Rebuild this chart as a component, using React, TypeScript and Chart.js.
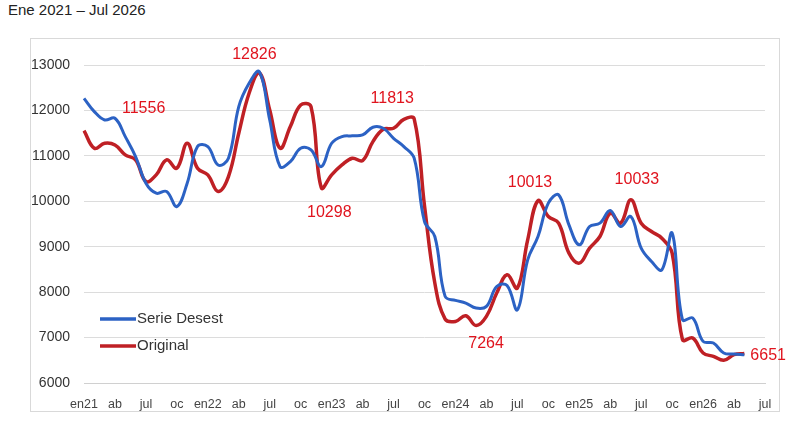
import React, { useEffect, useRef } from "react";
import { Chart, registerables } from "chart.js";
Chart.register(...registerables);

const years = ["21", "22", "23", "24", "25", "26"];
const monthNames = ["en", "fe", "mr", "ab", "my", "jn", "jul", "ag", "se", "oc", "no", "di"];
const categories: string[] = [];
for (const y of years) for (let m = 0; m < 12; m++) { if (y === "26" && m > 6) break; categories.push(m === 0 ? "en" + y : monthNames[m]); }

const serieDesest = [12267, 11974, 11790, 11827, 11424, 10985, 10398, 10178, 10215, 9885, 10398, 11204, 11204, 10800, 10948, 12083, 12597, 12853, 11790, 10764, 10875, 11168, 11130, 10764, 11277, 11424, 11440, 11460, 11630, 11607, 11387, 11204, 10948, 9555, 9225, 7906, 7818, 7760, 7649, 7686, 8125, 8148, 7612, 8712, 9225, 9958, 10141, 9482, 9042, 9445, 9518, 9796, 9445, 9665, 8968, 8675, 8492, 9298, 7393, 7429, 6916, 6880, 6660, 6638, 6623];
const original = [11556, 11168, 11277, 11240, 11021, 10911, 10435, 10581, 10911, 10728, 11277, 10728, 10581, 10215, 10544, 11497, 12377, 12826, 12010, 11168, 11644, 12120, 12083, 10298, 10581, 10800, 10948, 10896, 11314, 11585, 11607, 11805, 11813, 9900, 8200, 7407, 7356, 7480, 7264, 7466, 7979, 8382, 8089, 9152, 10013, 9665, 9518, 8858, 8638, 8968, 9225, 9738, 9518, 10033, 9518, 9335, 9188, 8858, 6953, 6990, 6660, 6587, 6500, 6623, 6651];
const yTicks = [6000, 7000, 8000, 9000, 10000, 11000, 12000, 13000];
const labelledIdx = [0, 17, 23, 32, 38, 44, 53, 64];

export default function App() {
  const ref = useRef<HTMLCanvasElement>(null);
  useEffect(() => {
    document.body.style.margin = "0";
    const labelPos: Record<number, [number, number, CanvasTextAlign]> = {
      0: [38, -22, "left"], 17: [-5, -18, "center"], 23: [8, 25, "center"], 32: [-22, -20, "center"],
      38: [10, 18, "center"], 44: [-8, -18, "center"], 53: [6, -20, "center"], 64: [6, 2, "left"],
    };
    const plugin = {
      id: "extras",
      afterDatasetsDraw(chart: any) {
        const ctx = chart.ctx;
        const meta = chart.getDatasetMeta(1);
        ctx.save();
        ctx.font = "16px Arial, 'Liberation Sans'";
        ctx.fillStyle = "#e0141e";
        ctx.textBaseline = "middle";
        for (const i of labelledIdx) {
          const p = meta.data[i];
          const [dx, dy, al] = labelPos[i];
          ctx.textAlign = al;
          ctx.fillText(String(original[i]), p.x + dx, p.y + dy);
        }
        const items = [["Serie Desest", "#2c62c4"], ["Original", "#bf2025"]];
        ctx.font = "15px Arial, 'Liberation Sans'";
        ctx.textAlign = "left";
        items.forEach(([t, c], k) => {
          const y = 319 + k * 27;
          ctx.strokeStyle = c; ctx.lineWidth = 3.5;
          ctx.beginPath(); ctx.moveTo(100, y); ctx.lineTo(136, y); ctx.stroke();
          ctx.fillStyle = "#333"; ctx.fillText(t, 137, y);
        });
        ctx.restore();
      },
    };
    const chart = new Chart(ref.current!, {
      type: "line",
      data: {
        labels: categories,
        datasets: [
          { label: "Serie Desest", data: serieDesest, borderColor: "#2c62c4", borderWidth: 3, pointRadius: 0, tension: 0.4, fill: false },
          { label: "Original", data: original, borderColor: "#bf2025", borderWidth: 3.5, pointRadius: 0, tension: 0.4, fill: false },
        ],
      },
      options: {
        animation: false, responsive: false, maintainAspectRatio: false,
        layout: { padding: { top: 65, right: 45, left: 0, bottom: 0 } },
        plugins: { legend: { display: false }, tooltip: { enabled: false } },
        scales: {
          x: {
            grid: { display: false }, border: { color: "#d0d0d0" },
            afterFit: (s: any) => { s.height = 43; },
            ticks: { autoSkip: false, maxRotation: 0, color: "#444", font: { size: 12.5, family: "Arial" }, padding: 6,
              callback: (_v: any, i: number) => (i % 3 === 0 ? categories[i] : "") },
          },
          y: {
            min: 6000, max: 13000,
            afterFit: (s: any) => { s.width = 84; },
            afterBuildTicks: (s: any) => { s.ticks = yTicks.map((v) => ({ value: v })); },
            grid: { color: "#dcdcdc", drawTicks: false }, border: { display: false },
            ticks: { color: "#333", font: { size: 14, family: "Arial" }, padding: 14, callback: (v: any) => String(v) },
          },
        },
      },
      plugins: [plugin],
    } as any);
    return () => chart.destroy();
  }, []);
  return (
    <div style={{ position: "relative", width: 810, height: 426, background: "#fff", fontFamily: "Arial, 'Liberation Sans'" }}>
      <div style={{ position: "absolute", left: 8, top: 1, fontSize: 15, color: "#222" }}>Ene 2021 – Jul 2026</div>
      <div style={{ position: "absolute", left: 30, top: 38, width: 748, height: 372, border: "1px solid #d9d9d9" }} />
      <canvas ref={ref} width={810} height={426} style={{ position: "absolute", left: 0, top: 0 }} />
    </div>
  );
}
